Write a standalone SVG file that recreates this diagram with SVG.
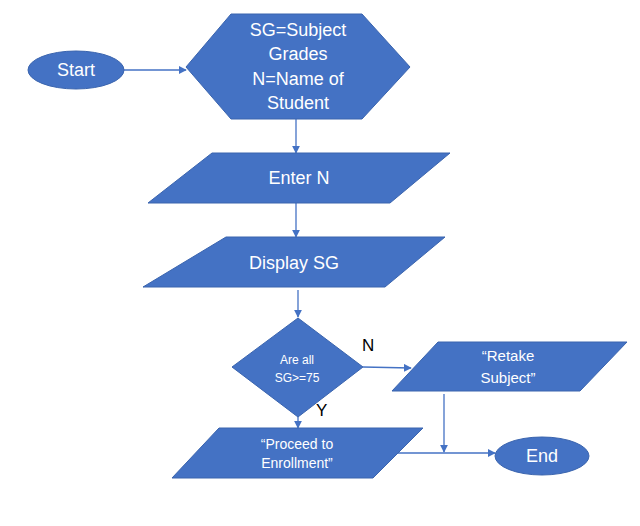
<svg xmlns="http://www.w3.org/2000/svg" width="640" height="526" viewBox="0 0 640 526">
<defs>
<marker id="ah" viewBox="0 0 10 10" refX="9" refY="5" markerWidth="8" markerHeight="8" markerUnits="userSpaceOnUse" orient="auto">
<path d="M0,0 L10,5 L0,10 z" fill="#4472C4"/>
</marker>
<style>
.s{fill:#4472C4;stroke:#3A64AE;stroke-width:1}
.t{font-family:"Liberation Sans",Arial,sans-serif;fill:#fff;text-anchor:middle}
.l{font-family:"Liberation Sans",Arial,sans-serif;fill:#000;font-size:17px}
.c{stroke:#4472C4;stroke-width:1.3;fill:none}
</style>
</defs>
<rect width="640" height="526" fill="#fff"/>
<g id="connectors">
<line class="c" x1="124" y1="70" x2="186" y2="70" marker-end="url(#ah)"/>
<line class="c" x1="296" y1="119" x2="296" y2="153" marker-end="url(#ah)"/>
<line class="c" x1="296" y1="203" x2="296" y2="237" marker-end="url(#ah)"/>
<line class="c" x1="298" y1="290" x2="298" y2="317" marker-end="url(#ah)"/>
<line class="c" x1="363" y1="367" x2="411" y2="368" marker-end="url(#ah)"/>
<line class="c" x1="298" y1="417" x2="298" y2="428" marker-end="url(#ah)"/>
<line class="c" x1="444" y1="394" x2="444" y2="452" marker-end="url(#ah)"/>
<line class="c" x1="398" y1="453" x2="495" y2="453" marker-end="url(#ah)"/>
<text class="l" x="362" y="351">N</text>
<text class="l" x="316" y="416">Y</text>
</g>
<g id="start">
<ellipse class="s" cx="76" cy="70" rx="48" ry="19"/>
<text class="t" x="76" y="76" font-size="18">Start</text>
</g>
<g id="define">
<polygon class="s" points="186,67 231,14 362,14 410,67 362,119 231,119"/>
<text class="t" font-size="18"><tspan x="298" y="36">SG=Subject</tspan><tspan x="298" y="60">Grades</tspan><tspan x="298" y="85">N=Name of</tspan><tspan x="298" y="109">Student</tspan></text>
</g>
<g id="enter">
<polygon class="s" points="212,153 450,153 390,203 148,203"/>
<text class="t" x="299" y="184" font-size="18">Enter N</text>
</g>
<g id="display">
<polygon class="s" points="226,237 445,237 385,287 143,287"/>
<text class="t" x="294" y="269" font-size="18">Display SG</text>
</g>
<g id="decision">
<polygon class="s" points="298,318 363,367 298,417 232,367"/>
<text class="t" font-size="12"><tspan x="297" y="364">Are all</tspan><tspan x="297" y="382">SG&gt;=75</tspan></text>
</g>
<g id="retake">
<polygon class="s" points="438,342 627,342 580,391 392,391"/>
<text class="t" font-size="15"><tspan x="508" y="361">“Retake</tspan><tspan x="508" y="383">Subject”</tspan></text>
</g>
<g id="proceed">
<polygon class="s" points="219,428 423,428 373,478 172,478"/>
<text class="t" font-size="14"><tspan x="297" y="449">“Proceed to</tspan><tspan x="297" y="468">Enrollment”</tspan></text>
</g>
<g id="end">
<ellipse class="s" cx="542" cy="456" rx="47" ry="19"/>
<text class="t" x="542" y="462" font-size="18">End</text>
</g>
</svg>
